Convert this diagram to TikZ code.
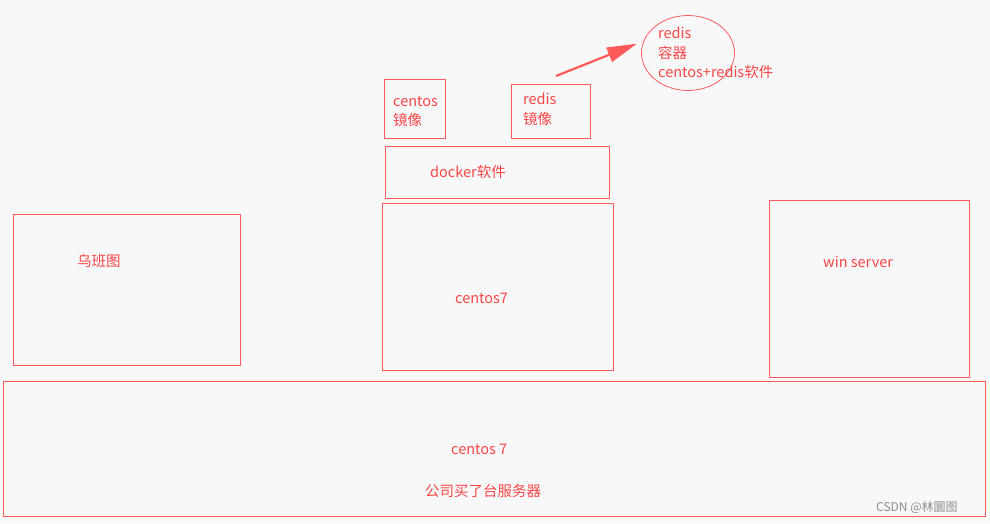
\documentclass[tikz,border=0pt]{standalone}
\usepackage{fontspec}
\setmainfont{Noto Sans CJK SC}
\usetikzlibrary{arrows, arrows.meta}
\usetikzlibrary{shapes.geometric}
\usepackage{xcolor}

\definecolor{bgcol}{RGB}{248,248,248}
\definecolor{boxred}{RGB}{255,90,90}
\definecolor{txtred}{RGB}{250,70,70}

\tikzset{
  frame/.style={draw=boxred, line width=1pt},
  lbl/.style={text=txtred, inner sep=0pt, anchor=west, font=\fontsize{14.5}{19.5}\selectfont},
}

\begin{document}
\begin{tikzpicture}[x=1pt, y=-1pt]

%background
\fill[bgcol] (0,0) rectangle (990,523);
\useasboundingbox (0,0) rectangle (990,523);

%boxes
\draw[frame] (3,381) rectangle (985,516);
\draw[frame] (13,214) rectangle (240,365);
\draw[frame] (382,203) rectangle (613,370);
\draw[frame] (769,200) rectangle (969,377);
\draw[frame] (385,146) rectangle (609,198);
\draw[frame] (384,79) rectangle (445,138);
\draw[frame] (511,84) rectangle (590,138);

%container
\node[ellipse, draw=boxred, line width=0.8pt, minimum width=93pt, minimum height=75pt, inner sep=0pt] (redisc) at (688,53) {};

%arrow
\coordinate (arrowtail) at (556,76);
\draw[-{Triangle[length=30pt,width=15pt]}, line width=2.2pt, boxred, shorten >=7pt] (arrowtail) -- (redisc.165);

%labels
\node [lbl] (ubuntu) at (77,261) {乌班图};
\node [lbl] (cos7) at (455,298) {centos7};
\node [lbl] (winsrv) at (823,262) {win server};
\node [lbl] (docker) at (430,172) {docker软件};
\node [lbl, anchor=north west, align=left] (cosimg) at (393,96) {centos\\镜像};
\node [lbl, anchor=north west, align=left] (redisimg) at (523,93) {redis\\镜像};
\node [lbl, anchor=north west, align=left] (redisctext) at (658,27) {redis\\容器\\centos+redis软件};
\node [lbl] (host) at (451,449) {centos 7};
\node [lbl] (company) at (425,491) {公司买了台服务器};
\node [lbl, text=black!45, font=\fontsize{12}{14}\selectfont] (mark) at (876,507) {CSDN @林圜图};

\end{tikzpicture}
\end{document}
